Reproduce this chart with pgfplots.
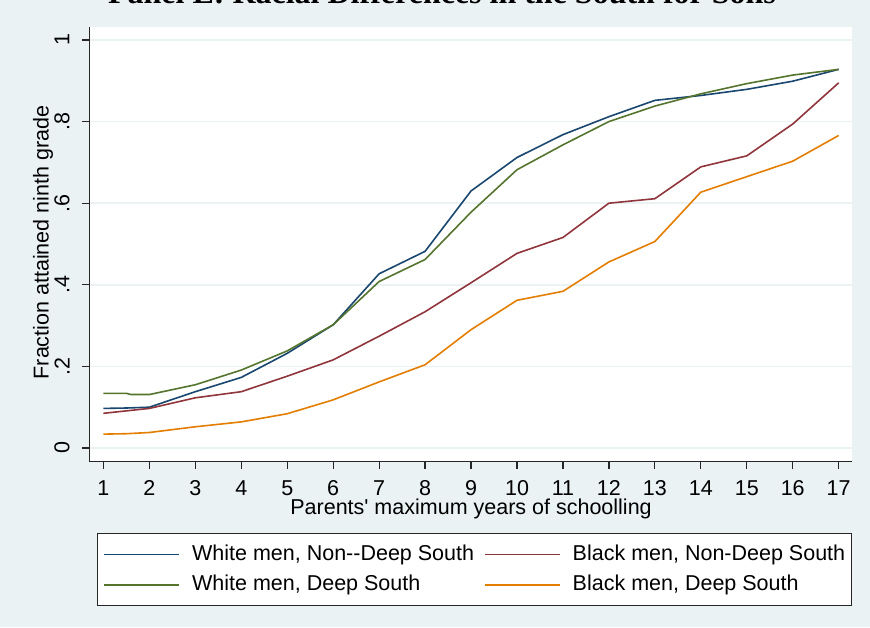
\documentclass[border=0pt]{standalone}
\usepackage{pgfplots}
\pgfplotsset{compat=1.18}
\usepackage{fontspec}
\setmainfont{Liberation Sans}
\newfontfamily\titlefont{Liberation Serif}
\definecolor{bgc}{HTML}{EAF2F3}
\definecolor{snavy}{HTML}{1A476F}
\definecolor{smaroon}{HTML}{90353B}
\definecolor{sgreen}{HTML}{55752F}
\definecolor{sorange}{HTML}{E37E00}
\begin{document}
\begin{tikzpicture}[font=\fontsize{10.75}{13}\selectfont]
\useasboundingbox (0,0) rectangle (435pt,313.5pt);
\fill[bgc] (0,0) rectangle (435pt,313.5pt);
\node[anchor=base, inner sep=0pt, font=\titlefont\bfseries\fontsize{16}{19}\selectfont] at (221pt,311.75pt) {Panel E: Racial Differences in the South for Sons};
\begin{axis}[
  at={(44.65pt,82.65pt)}, anchor=south west,
  scale only axis, width=381.35pt, height=217.1pt,
  xmin=0.693, xmax=17.29, ymin=-0.0336, ymax=1.0306,
  axis background/.style={fill=white},
  axis x line*=bottom, axis y line*=left,
  axis line style={black!85, line width=0.6pt},
  tick style={black!85, line width=0.6pt},
  tick align=outside, major tick length=3.5pt,
  xtick={1,2,...,17},
  ytick={0,0.2,0.4,0.6,0.8,1},
  yticklabels={0,.2,.4,.6,.8,1},
  /pgf/number format/assume math mode=true,
  xticklabel style={anchor=center, inner sep=0pt},
  xticklabel shift=9.7pt,
  yticklabel style={anchor=center, rotate=90, inner sep=0pt},
  yticklabel shift=10.15pt,
  ymajorgrids,
  major grid style={bgc, line width=0.8pt},
  xlabel={Parents\textquotesingle{} maximum years of schoolling},
  ylabel={Fraction attained ninth grade},
  xlabel style={at={(axis description cs:0.5005,-0.1089)}, anchor=center, inner sep=0pt},
  ylabel style={at={(axis description cs:-0.0607,0.505)}, anchor=center, inner sep=0pt},
  legend columns=2,
  legend cell align=left,
  legend style={at={(axis description cs:0.0101,-0.1642)}, anchor=north west,
    draw=black!85, line width=0.5pt, fill=white, inner xsep=3pt, inner ysep=5.5pt,
    row sep=5pt, column sep=6pt,
    nodes={inner sep=0pt, text height=7.8pt, text depth=2.3pt},
    /tikz/every even column/.append style={column sep=5pt}},
  legend image code/.code={\draw[#1, line width=0.8pt] (0pt,0pt) -- (37.5pt,0pt);},
  every axis plot/.append style={line width=0.8pt},
]
\addplot[snavy] coordinates {
(1,0.097) (1.5,0.098) (2,0.100) (3,0.138) (4,0.173) (5,0.232) (6,0.302) (7,0.427) (8,0.482) (9,0.630) (10,0.712) (11,0.768) (12,0.812) (13,0.852) (14,0.864) (15,0.879) (16,0.899) (17,0.928)};
\addlegendentry{White men, Non-{}-Deep South}
\addplot[smaroon] coordinates {
(1,0.085) (1.5,0.091) (2,0.097) (3,0.123) (4,0.138) (5,0.176) (6,0.216) (7,0.274) (8,0.334) (9,0.405) (10,0.477) (11,0.516) (12,0.600) (13,0.611) (14,0.689) (15,0.716) (16,0.794) (17,0.895)};
\addlegendentry{Black men, Non-Deep South}
\addplot[sgreen] coordinates {
(1,0.134) (1.5,0.134) (1.6,0.131) (2,0.131) (3,0.155) (4,0.191) (5,0.238) (6,0.302) (7,0.408) (8,0.462) (9,0.578) (10,0.682) (11,0.743) (12,0.800) (13,0.838) (14,0.868) (15,0.893) (16,0.914) (17,0.928)};
\addlegendentry{White men, Deep South}
\addplot[sorange] coordinates {
(1,0.034) (1.5,0.035) (2,0.038) (3,0.052) (4,0.064) (5,0.084) (6,0.118) (7,0.162) (8,0.204) (9,0.290) (10,0.362) (11,0.384) (12,0.456) (13,0.506) (14,0.627) (15,0.665) (16,0.703) (17,0.766)};
\addlegendentry{Black men, Deep South}
\end{axis}
\end{tikzpicture}
\end{document}
